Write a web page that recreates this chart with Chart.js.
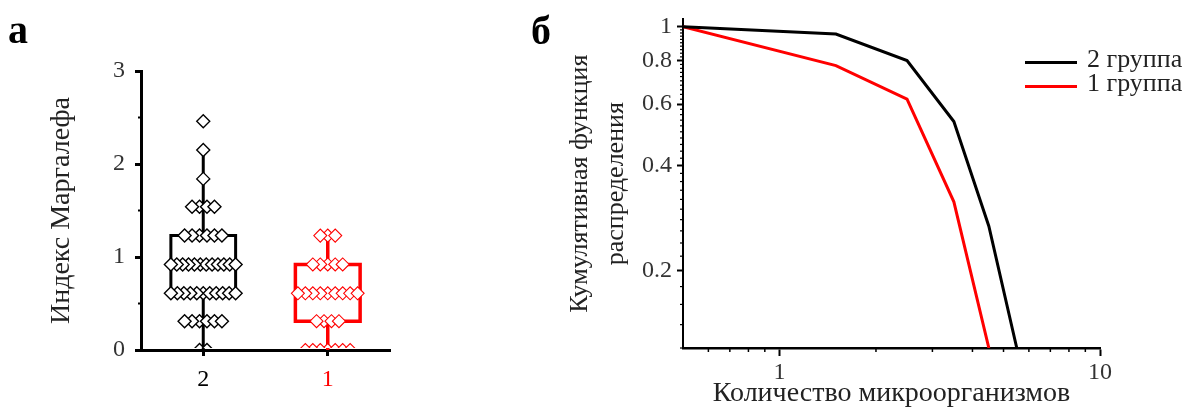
<!DOCTYPE html>
<html><head><meta charset="utf-8">
<script src="https://cdn.jsdelivr.net/npm/chart.js@4.4.1/dist/chart.umd.min.js"></script>
<style>
html,body{margin:0;padding:0;background:#fff;}
body{width:1195px;height:410px;position:relative;overflow:hidden;}
#wrapA{position:absolute;left:0;top:0;width:540px;height:410px;}
#wrapB{position:absolute;left:540px;top:0;width:655px;height:410px;}
.panel{position:absolute;font:bold 40px 'Liberation Serif',serif;line-height:40px;color:#000;}
</style></head>
<body>
<div id="wrapA"><canvas id="chartA" width="540" height="410"></canvas></div>
<div id="wrapB"><canvas id="chartB" width="655" height="410"></canvas></div>
<div class="panel" style="left:8px;top:10px">а</div>
<div class="panel" style="left:531px;top:11px">б</div>
<script>
// ---------- Panel а data ----------
const categories = ['2', '1'];
const categoryColors = ['#000000', '#ff0000'];
const group2Margalef = [
  2.46, 2.15, 1.84,
  1.54, 1.54, 1.54, 1.54,
  1.23, 1.23, 1.23, 1.23, 1.23, 1.23,
  0.92, 0.92, 0.92, 0.92, 0.92, 0.92, 0.92, 0.92, 0.92, 0.92, 0.92, 0.92,
  0.61, 0.61, 0.61, 0.61, 0.61, 0.61, 0.61, 0.61, 0.61, 0.61, 0.61,
  0.31, 0.31, 0.31, 0.31, 0.31, 0.31,
  0, 0
];
const group1Margalef = [
  1.23, 1.23, 1.23,
  0.92, 0.92, 0.92, 0.92, 0.92,
  0.61, 0.61, 0.61, 0.61, 0.61, 0.61, 0.61, 0.61, 0.61,
  0.31, 0.31, 0.31, 0.31,
  0, 0, 0, 0, 0, 0, 0
];
const boxLow    = [0,    0];
const boxQ1     = [0.61, 0.31];
const boxMedian = [0.92, 0.61];
const boxQ3     = [1.23, 0.92];
const boxHigh   = [2.15, 1.23];
const yTicksA = [0, 1, 2, 3];
const yMinorTicksA = [0.5, 1.5, 2.5];

// ---------- Panel б data ----------
const cdfX2 = [0.5, 1.5, 2.5, 3.5, 4.5, 5.5];
const cdfGroup2 = [1, 0.953, 0.80, 0.535, 0.268, 0.12];
const cdfX1 = [0.5, 1.5, 2.5, 3.5, 4.5];
const cdfGroup1 = [1, 0.774, 0.62, 0.315, 0.12];
const seriesLabels = ['2 группа', '1 группа'];
const seriesColors = ['#000000', '#ff0000'];
const xTicksB = [1, 10];
const xMinorTicksB = [0.6, 0.7, 0.8, 0.9, 2, 3, 4, 5, 6, 7, 8, 9];
const yTicksB = [0.2, 0.4, 0.6, 0.8, 1];

const FONT = "'Liberation Serif', 'Times New Roman', serif";

// beeswarm-like horizontal spread for equal values (layout only)
function swarm(values, center) {
  const groups = {};
  values.forEach(v => { (groups[v] = groups[v] || []).push(v); });
  const pts = [];
  Object.keys(groups).forEach(k => {
    const arr = groups[k];
    const n = arr.length;
    const step = n > 1 ? Math.min(0.06, 0.52 / (n - 1)) : 0;
    const offs = arr.map((v, i) => (i - (n - 1) / 2) * step);
    offs.sort((a, b) => Math.abs(a) - Math.abs(b));
    offs.forEach(o => pts.push({x: center + o, y: arr[0]}));
  });
  return pts;
}

const minorTicksPlugin = {
  id: 'minorTicks',
  afterDraw(chart, args, opts) {
    const ctx = chart.ctx;
    ctx.save();
    ctx.strokeStyle = '#000';
    (opts.axes || []).forEach(a => {
      const scale = chart.scales[a.id];
      ctx.lineWidth = a.width;
      a.values.forEach(v => {
        const p = scale.getPixelForValue(v);
        ctx.beginPath();
        if (scale.isHorizontal()) { ctx.moveTo(p, scale.top); ctx.lineTo(p, scale.top + a.length); }
        else { ctx.moveTo(scale.right, p); ctx.lineTo(scale.right - a.length, p); }
        ctx.stroke();
      });
    });
    ctx.restore();
  }
};

const sideLegendPlugin = {
  id: 'sideLegend',
  afterDraw(chart, args, opts) {
    if (!opts.show) return;
    const ctx = chart.ctx;
    ctx.save();
    chart.data.datasets.forEach((ds, i) => {
      const y = opts.y + i * opts.spacing;
      ctx.strokeStyle = ds.borderColor;
      ctx.lineWidth = ds.borderWidth;
      ctx.beginPath(); ctx.moveTo(opts.x, y); ctx.lineTo(opts.x + opts.lineLen, y); ctx.stroke();
      ctx.fillStyle = '#222';
      ctx.font = opts.font;
      ctx.textBaseline = 'middle';
      ctx.fillText(ds.label, opts.x + opts.lineLen + opts.gap, y - 2);
    });
    ctx.restore();
  }
};

// ---------- Chart а ----------
const HALF = 0.26;
function boxDatasets(i) {
  const c = i, col = categoryColors[i];
  const w = i === 0 ? 3 : 3.5;
  const base = {showLine: true, pointRadius: 0, borderColor: col, borderWidth: w, order: 1,
    borderJoinStyle: 'miter', borderCapStyle: 'butt', clip: {left: 5, right: 5, top: 5, bottom: 0}};
  return [
    Object.assign({}, base, {data: [
      {x: c - HALF, y: boxQ1[i]}, {x: c + HALF, y: boxQ1[i]}, {x: c + HALF, y: boxQ3[i]},
      {x: c - HALF, y: boxQ3[i]}, {x: c - HALF, y: boxQ1[i]}], borderCapStyle: 'square'}),
    Object.assign({}, base, {data: [{x: c - HALF, y: boxMedian[i]}, {x: c + HALF, y: boxMedian[i]}]}),
    Object.assign({}, base, {data: [{x: c, y: boxLow[i]}, {x: c, y: boxQ1[i]}]}),
    Object.assign({}, base, {data: [{x: c, y: boxQ3[i]}, {x: c, y: boxHigh[i]}]})
  ];
}
const pointBase = {pointStyle: 'rectRot', pointRadius: 6.5, pointBackgroundColor: '#fff',
  showLine: false, order: 0, clip: {left: 10, right: 10, top: 10, bottom: -2}};

new Chart(document.getElementById('chartA'), {
  type: 'scatter',
  data: {
    datasets: [
      Object.assign({}, pointBase, {data: swarm(group2Margalef, 0), pointBorderColor: categoryColors[0], pointBorderWidth: 1.4}),
      Object.assign({}, pointBase, {data: swarm(group1Margalef, 1), pointBorderColor: categoryColors[1], pointBorderWidth: 1.1}),
      ...boxDatasets(0),
      ...boxDatasets(1)
    ]
  },
  options: {
    responsive: false, animation: false, devicePixelRatio: 1,
    layout: {padding: {left: 45, right: 150, top: 71, bottom: 0}},
    plugins: {legend: {display: false}, tooltip: {enabled: false},
      minorTicks: {axes: [{id: 'y', values: yMinorTicksA, length: 3, width: 2}]}},
    scales: {
      x: {
        type: 'linear', min: -0.5, max: 1.5,
        afterBuildTicks: s => { s.ticks = categories.map((c, i) => ({value: i})); },
        afterFit: s => { s.height = 60; },
        ticks: {callback: (v, i) => categories[i], color: c => categoryColors[c.index],
          font: {family: FONT, size: 24}, padding: 9, autoSkip: false, maxRotation: 0},
        grid: {display: true, drawOnChartArea: false, drawTicks: true, tickLength: 6, tickWidth: 3, tickColor: '#000'},
        border: {display: true, color: '#000', width: 3}
      },
      y: {
        type: 'linear', min: 0, max: 3,
        afterBuildTicks: s => { s.ticks = yTicksA.map(v => ({value: v})); },
        afterFit: s => { s.width = 96; },
        ticks: {color: '#333', font: {family: FONT, size: 24}, padding: 10, callback: v => String(v)},
        grid: {display: true, drawOnChartArea: false, drawTicks: true, tickLength: 6, tickWidth: 3, tickColor: '#000'},
        border: {display: true, color: '#000', width: 3},
        title: {display: true, text: 'Индекс Маргалефа', color: '#222',
          font: {family: FONT, size: 28, lineHeight: 1.2}, padding: 0}
      }
    }
  },
  plugins: [minorTicksPlugin]
});

// ---------- Chart б ----------
const yMinorB = [];
for (let v = 12; v <= 100; v += 2) { if (v % 20 !== 0) yMinorB.push(v / 100); }

new Chart(document.getElementById('chartB'), {
  type: 'scatter',
  data: {
    datasets: [
      {label: seriesLabels[0], data: cdfX2.map((x, i) => ({x, y: cdfGroup2[i]})),
        showLine: true, pointRadius: 0, borderColor: seriesColors[0], borderWidth: 3, tension: 0},
      {label: seriesLabels[1], data: cdfX1.map((x, i) => ({x, y: cdfGroup1[i]})),
        showLine: true, pointRadius: 0, borderColor: seriesColors[1], borderWidth: 3, tension: 0}
    ]
  },
  options: {
    responsive: false, animation: false, devicePixelRatio: 1,
    layout: {padding: {left: 22, right: 95, top: 15, bottom: 0}},
    plugins: {legend: {display: false}, tooltip: {enabled: false},
      minorTicks: {axes: [
        {id: 'x', values: xMinorTicksB, length: 4, width: 1.5},
        {id: 'y', values: yMinorB, length: 3, width: 1.2}
      ]},
      sideLegend: {show: true, x: 485, y: 62.5, spacing: 24, lineLen: 52, gap: 10,
        font: "26px 'Liberation Serif', serif"}
    },
    scales: {
      x: {
        type: 'logarithmic', min: 0.5, max: 10,
        afterBuildTicks: s => { s.ticks = xTicksB.map(v => ({value: v})); },
        afterFit: s => { s.height = 62; },
        ticks: {callback: v => String(v), color: '#333', font: {family: FONT, size: 24}, padding: 2,
          autoSkip: false, maxRotation: 0},
        grid: {display: true, drawOnChartArea: false, drawTicks: true, tickLength: 8, tickWidth: 2, tickColor: '#000'},
        border: {display: true, color: '#000', width: 2.5},
        title: {display: true, text: 'Количество микроорганизмов', color: '#222',
          font: {family: FONT, size: 28, lineHeight: 1.2}, padding: 0}
      },
      y: {
        type: 'logarithmic', min: 0.12, max: 1.05,
        afterBuildTicks: s => { s.ticks = yTicksB.map(v => ({value: v})); },
        afterFit: s => { s.width = 121; },
        ticks: {callback: v => String(v), color: '#333', font: {family: FONT, size: 24}, padding: 5, autoSkip: false},
        grid: {display: true, drawOnChartArea: false, drawTicks: true, tickLength: 6, tickWidth: 2, tickColor: '#000'},
        border: {display: true, color: '#000', width: 2},
        title: {display: true, text: ['Кумулятивная функция', 'распределения'], color: '#222',
          font: {family: FONT, size: 26, lineHeight: 1.4}, padding: 0}
      }
    }
  },
  plugins: [minorTicksPlugin, sideLegendPlugin]
});
</script>
</body></html>
